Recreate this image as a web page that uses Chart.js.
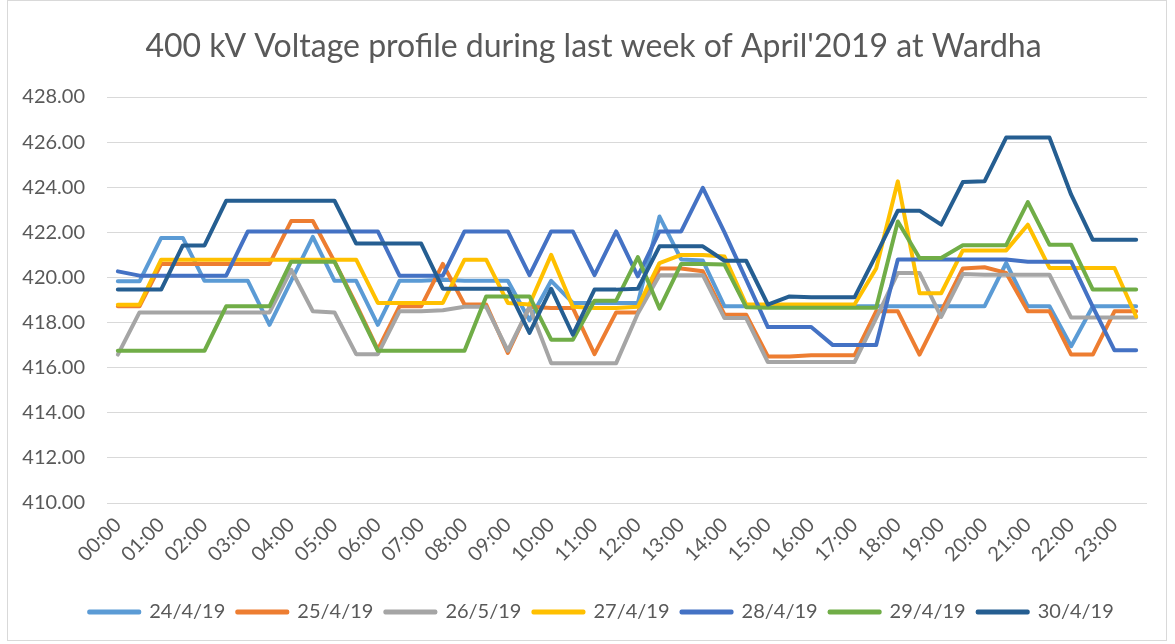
<!DOCTYPE html>
<html>
<head>
<meta charset="utf-8">
<script src="https://cdn.jsdelivr.net/npm/chart.js@4/dist/chart.umd.min.js"></script>
<style>
    html, body { margin: 0; padding: 0; background: #fff; }
    #wrap { position: relative; width: 1175px; height: 644px; }
    #frame { position: absolute; left: 7px; top: 0; width: 1160px; height: 641px; border: 1px solid #d9d9d9; box-sizing: border-box; }
    canvas { position: absolute; left: 0; top: 0; }
</style>
</head>
<body>
<div id="wrap">
    <div id="frame"></div>
    <canvas id="voltChart" width="1175" height="644"></canvas>
</div>
<script>
// half-hour slots, labelled every hour on the axis
const times = [
    '00:00', '00:30', '01:00', '01:30', '02:00', '02:30', '03:00', '03:30',
    '04:00', '04:30', '05:00', '05:30', '06:00', '06:30', '07:00', '07:30',
    '08:00', '08:30', '09:00', '09:30', '10:00', '10:30', '11:00', '11:30',
    '12:00', '12:30', '13:00', '13:30', '14:00', '14:30', '15:00', '15:30',
    '16:00', '16:30', '17:00', '17:30', '18:00', '18:30', '19:00', '19:30',
    '20:00', '20:30', '21:00', '21:30', '22:00', '22:30', '23:00', '23:30'
];

const yTicks = [410, 412, 414, 416, 418, 420, 422, 424, 426, 428];

const day24 = [
    419.83, 419.83, 421.75, 421.75, 419.85, 419.85, 419.85, 417.90,
    419.85, 421.80, 419.85, 419.85, 417.90, 419.85, 419.85, 419.90,
    419.85, 419.85, 419.85, 418.10, 419.85, 418.87, 418.87, 418.87,
    418.87, 422.70, 420.80, 420.75, 418.72, 418.72, 418.72, 418.72,
    418.72, 418.72, 418.72, 418.72, 418.72, 418.72, 418.72, 418.72,
    418.72, 420.64, 418.72, 418.72, 416.95, 418.72, 418.72, 418.72
];
const day25 = [
    418.72, 418.72, 420.60, 420.60, 420.60, 420.60, 420.60, 420.60,
    422.50, 422.50, 420.70, 418.80, 416.80, 418.72, 418.72, 420.60,
    418.80, 418.80, 416.65, 418.70, 418.65, 418.65, 416.60, 418.45,
    418.45, 420.40, 420.40, 420.27, 418.35, 418.35, 416.50, 416.50,
    416.55, 416.55, 416.55, 418.50, 418.50, 416.58, 418.50, 420.40,
    420.45, 420.20, 418.50, 418.50, 416.58, 416.58, 418.50, 418.50
];
const day26 = [
    416.58, 418.45, 418.45, 418.45, 418.45, 418.45, 418.45, 418.45,
    420.34, 418.50, 418.45, 416.60, 416.60, 418.50, 418.50, 418.55,
    418.70, 418.70, 416.75, 418.70, 416.20, 416.20, 416.20, 416.20,
    418.40, 420.10, 420.10, 420.10, 418.20, 418.20, 416.25, 416.25,
    416.25, 416.25, 416.25, 418.20, 420.20, 420.20, 418.25, 420.15,
    420.12, 420.12, 420.12, 420.12, 418.22, 418.22, 418.22, 418.22
];
const day27 = [
    418.79, 418.79, 420.79, 420.79, 420.79, 420.79, 420.79, 420.79,
    420.79, 420.79, 420.79, 420.79, 418.87, 418.87, 418.87, 418.87,
    420.79, 420.79, 418.87, 418.80, 421.00, 418.70, 418.65, 418.65,
    418.70, 420.64, 421.00, 421.00, 420.93, 418.80, 418.80, 418.80,
    418.80, 418.80, 418.80, 420.40, 424.26, 419.30, 419.30, 421.20,
    421.20, 421.20, 422.34, 420.42, 420.42, 420.42, 420.42, 418.27
];
const day28 = [
    420.27, 420.08, 420.08, 420.08, 420.08, 420.08, 422.04, 422.04,
    422.04, 422.04, 422.04, 422.04, 422.04, 420.08, 420.08, 420.08,
    422.04, 422.04, 422.04, 420.10, 422.04, 422.04, 420.10, 422.04,
    420.05, 422.04, 422.04, 423.97, 422.00, 419.90, 417.80, 417.80,
    417.80, 417.00, 417.00, 417.00, 420.80, 420.80, 420.80, 420.80,
    420.80, 420.80, 420.70, 420.70, 420.70, 418.70, 416.77, 416.77
];
const day29 = [
    416.75, 416.75, 416.75, 416.75, 416.75, 418.72, 418.72, 418.72,
    420.70, 420.70, 420.70, 418.72, 416.75, 416.75, 416.75, 416.75,
    416.75, 419.16, 419.16, 419.16, 417.24, 417.24, 418.97, 418.97,
    420.90, 418.62, 420.60, 420.60, 420.57, 418.68, 418.66, 418.66,
    418.66, 418.66, 418.66, 418.66, 422.48, 420.86, 420.86, 421.43,
    421.43, 421.43, 423.34, 421.45, 421.45, 419.46, 419.46, 419.46
];
const day30 = [
    419.46, 419.46, 419.46, 421.42, 421.42, 423.40, 423.40, 423.40,
    423.40, 423.40, 423.40, 421.50, 421.50, 421.50, 421.50, 419.50,
    419.50, 419.50, 419.50, 417.54, 419.50, 417.46, 419.46, 419.46,
    419.50, 421.38, 421.38, 421.38, 420.74, 420.74, 418.80, 419.16,
    419.12, 419.12, 419.12, 421.00, 422.96, 422.96, 422.34, 424.23,
    424.26, 426.20, 426.20, 426.20, 423.67, 421.67, 421.67, 421.67
];

const seriesNames = ['24/4/19', '25/4/19', '26/5/19', '27/4/19', '28/4/19', '29/4/19', '30/4/19'];
const seriesValues = [day24, day25, day26, day27, day28, day29, day30];
const seriesColors = ['#5b9bd5', '#ed7d31', '#a5a5a5', '#ffc000', '#4472c4', '#70ad47', '#255e91'];

const textColor = '#595959';
const fontFamily = 'Lato, "Open Sans", sans-serif';

const datasets = seriesNames.map((name, i) => ({
    label: name,
    data: seriesValues[i],
    borderColor: seriesColors[i],
    backgroundColor: seriesColors[i],
    borderWidth: 4,
    borderCapStyle: 'round',
    borderJoinStyle: 'round',
    pointRadius: 0,
    tension: 0,
    // Excel paints later series on top; Chart.js paints lowest order last
    order: seriesNames.length - i
}));

// Excel centres title and legend on the whole chart, not on the plot
const centreShift = {
    id: 'centreShift',
    afterLayout(chart) {
        chart.legend.left += 28;
        chart.legend.right += 28;
        chart.titleBlock.left += 20;
        chart.titleBlock.right += 20;
    }
};

new Chart(document.getElementById('voltChart'), {
    type: 'line',
    data: { labels: times, datasets },
    plugins: [centreShift],
    options: {
        responsive: false,
        animation: false,
        devicePixelRatio: 1,
        layout: { padding: { left: 0, right: 28, top: 4, bottom: 12 } },
        plugins: {
            title: {
                display: true,
                text: "400 kV Voltage profile during last week of April'2019 at Wardha",
                color: textColor,
                font: { family: fontFamily, size: 32, weight: 'normal' },
                padding: { top: 23, bottom: 31.6 }
            },
            legend: {
                position: 'bottom',
                labels: {
                    color: textColor,
                    font: { family: fontFamily, size: 20 },
                    boxWidth: 50,
                    boxHeight: 1,
                    padding: 12,
                    sort: (a, b) => a.datasetIndex - b.datasetIndex
                }
            },
            tooltip: { enabled: false }
        },
        scales: {
            x: {
                offset: true,
                grid: { display: false, drawTicks: false },
                border: { display: false },
                ticks: {
                    autoSkip: false,
                    minRotation: 45,
                    maxRotation: 45,
                    padding: 10,
                    color: textColor,
                    font: { family: fontFamily, size: 20 },
                    callback: (value, index) => index % 2 === 0 ? times[index] : ''
                },
                afterFit: (scale) => { scale.height = 87; }
            },
            y: {
                min: yTicks[0],
                max: yTicks[yTicks.length - 1],
                afterBuildTicks: (scale) => { scale.ticks = yTicks.map(v => ({ value: v })); },
                grid: { color: '#d9d9d9', lineWidth: 1, drawTicks: false },
                border: { display: false },
                ticks: {
                    padding: 22,
                    color: textColor,
                    font: { family: fontFamily, size: 20 },
                    callback: (value) => value.toFixed(2)
                },
                afterFit: (scale) => { scale.width = 107; }
            }
        }
    }
});
</script>
</body>
</html>
